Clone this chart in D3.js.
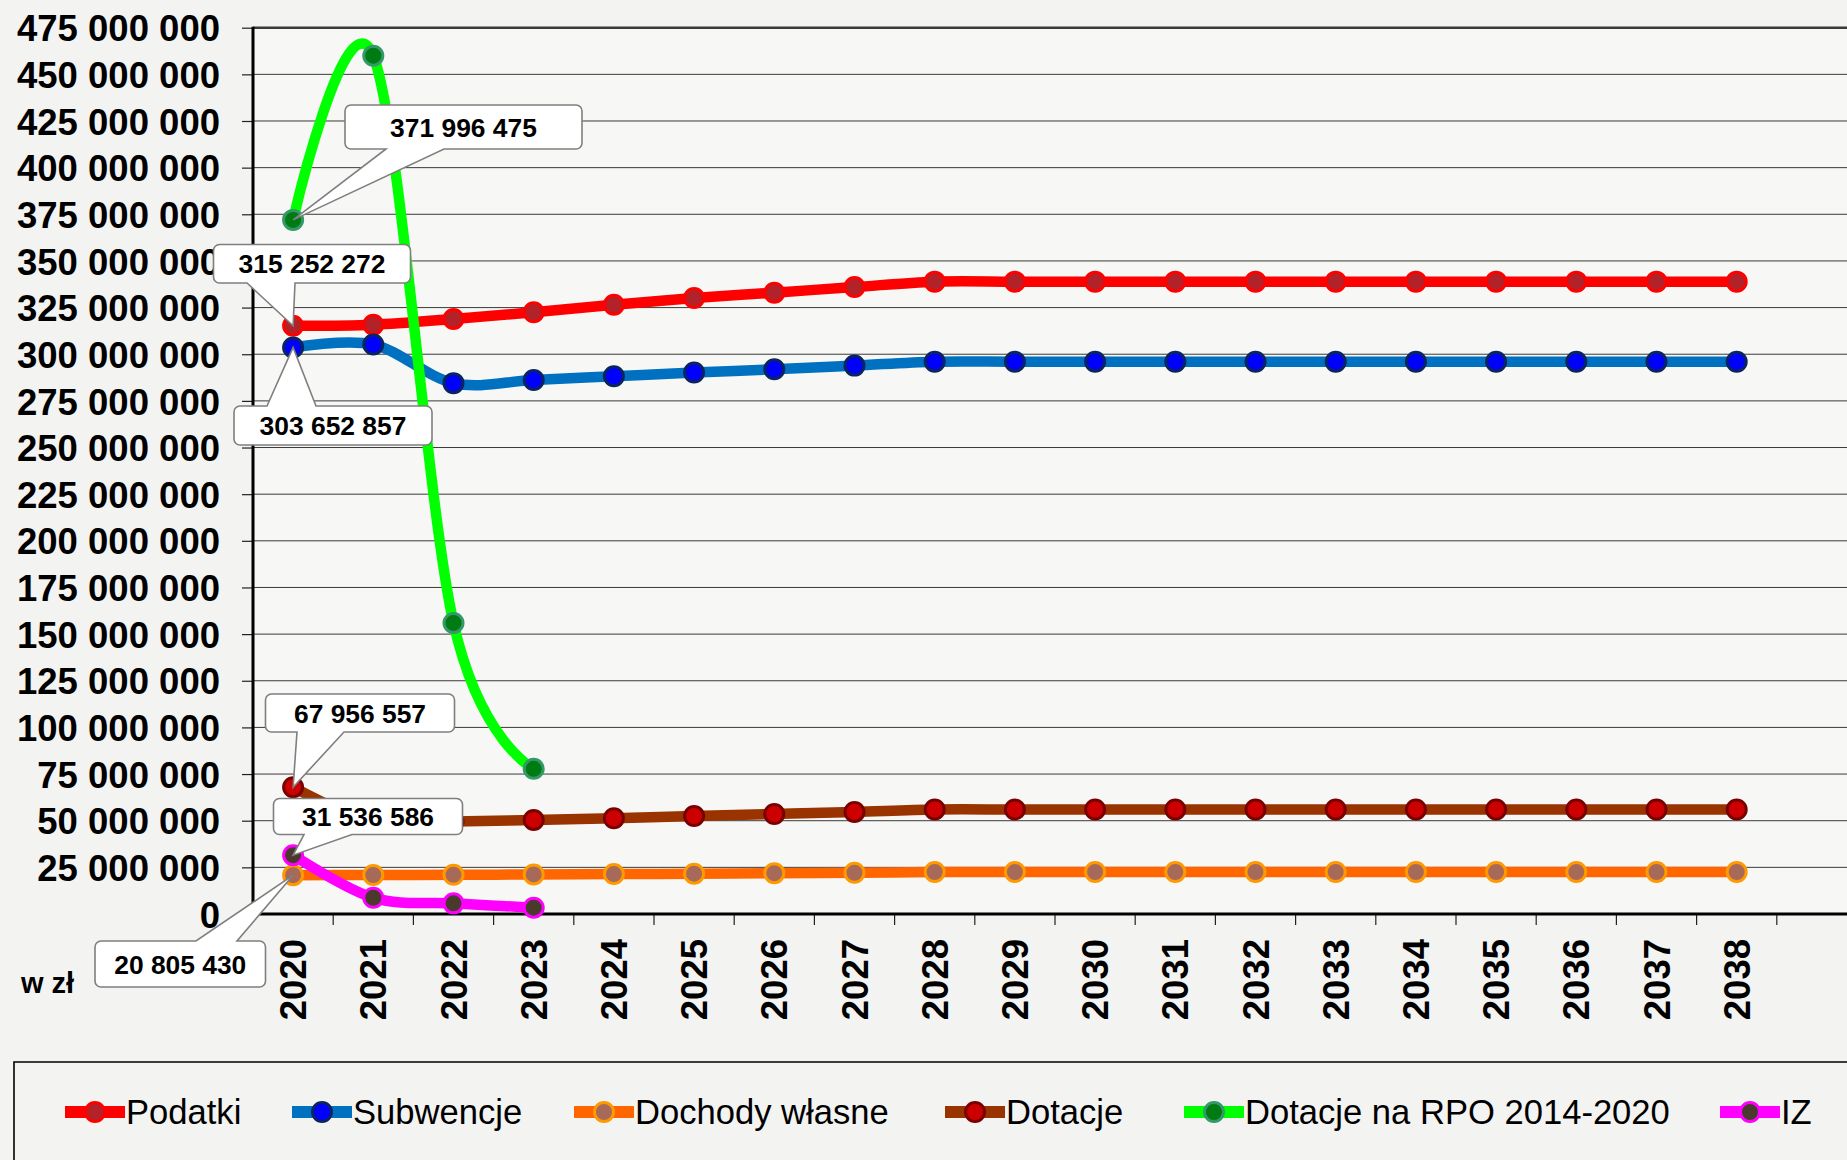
<!DOCTYPE html>
<html>
<head>
<meta charset="utf-8">
<script src="https://cdn.jsdelivr.net/npm/d3@7"></script>
<style>
  html, body { margin: 0; padding: 0; background: #F3F3F2; }
  svg { display: block; }
</style>
</head>
<body>
<script>
// ---------------- DATA ----------------
const years = ["2020","2021","2022","2023","2024","2025","2026","2027","2028","2029",
               "2030","2031","2032","2033","2034","2035","2036","2037","2038"];
const yTicks = [0, 25e6, 50e6, 75e6, 100e6, 125e6, 150e6, 175e6, 200e6, 225e6,
                250e6, 275e6, 300e6, 325e6, 350e6, 375e6, 400e6, 425e6, 450e6, 475e6];

const podatki   = [315252272, 315800000, 318900000, 322500000, 326500000, 330100000, 333000000, 336000000, 338900000,
                   338900000, 338900000, 338900000, 338900000, 338900000, 338900000, 338900000, 338900000, 338900000, 338900000];
const subwencje = [303652857, 305200000, 284500000, 286200000, 288200000, 290200000, 291900000, 293900000, 296000000,
                   296000000, 296000000, 296000000, 296000000, 296000000, 296000000, 296000000, 296000000, 296000000, 296000000];
const dochody   = [20805430, 20900000, 21000000, 21200000, 21400000, 21600000, 21900000, 22100000, 22500000,
                   22500000, 22500000, 22500000, 22500000, 22500000, 22500000, 22500000, 22500000, 22500000, 22500000];
const dotacje   = [67956557, 49300000, 49600000, 50400000, 51300000, 52500000, 53600000, 54700000, 56000000,
                   56000000, 56000000, 56000000, 56000000, 56000000, 56000000, 56000000, 56000000, 56000000, 56000000];
const rpo       = [371996475, 460000000, 156000000, 77800000];
const iz        = [31536586, 8700000, 5700000, 3400000];

const seriesNames = ["Podatki", "Subwencje", "Dochody własne", "Dotacje", "Dotacje na RPO 2014-2020", "IZ"];
const seriesValues = [podatki, subwencje, dochody, dotacje, rpo, iz];

// ---------------- STYLE / LAYOUT ----------------
const styles = [
  { line: "#FF0000", fill: "#B22228", stroke: "#FF0000" },
  { line: "#0070C0", fill: "#0000FF", stroke: "#0A2462" },
  { line: "#FF6600", fill: "#A86A58", stroke: "#FF9900" },
  { line: "#993300", fill: "#CC0000", stroke: "#7A0000" },
  { line: "#00FF00", fill: "#007A12", stroke: "#339966" },
  { line: "#FF00FF", fill: "#4A3A2E", stroke: "#FF00FF" }
];
const legendLineX = [65, 292, 574, 945, 1184, 1720];

// callout boxes: series index, box [x,y,w,h], pointer side, pointer base [x1,x2]
const callouts = [
  { s: 4, box: [345, 105, 237, 44],   side: "bottom", base: [386, 444] },
  { s: 0, box: [213.5, 244.5, 197, 38.5], side: "bottom", base: [247, 295] },
  { s: 1, box: [234, 406, 198, 39],   side: "top",    base: [267, 316] },
  { s: 3, box: [265.5, 694, 189, 38], side: "bottom", base: [297, 344] },
  { s: 5, box: [273.5, 798.5, 189, 36], side: "bottom", base: [304, 352] },
  { s: 2, box: [95, 941, 170.5, 46],  side: "top",    base: [196, 237] }
];

const W = 1847, H = 1160;
const plotLeft = 253, plotRight = 1847, plotTop = 27.7, plotBottom = 914;
const bandW = 80.2;

const svg = d3.select("body").append("svg").attr("width", W).attr("height", H);

svg.append("rect").attr("width", W).attr("height", H).attr("fill", "#F3F3F2");
svg.append("rect").attr("x", plotLeft).attr("y", plotTop)
   .attr("width", plotRight - plotLeft).attr("height", plotBottom - plotTop)
   .attr("fill", "#F7F7F5");

const x = d3.scaleBand().domain(years).range([plotLeft, plotLeft + bandW * years.length]).padding(0);
const y = d3.scaleLinear().domain([0, 475e6]).range([plotBottom, plotTop]);
const cx = d => x(d) + x.bandwidth() / 2;

const fmt = v => d3.format(",")(v).replace(/,/g, " ");

// gridlines
svg.append("g").selectAll("line").data(yTicks.filter(v => v > 0)).join("line")
  .attr("x1", plotLeft).attr("x2", plotRight)
  .attr("y1", d => y(d)).attr("y2", d => y(d))
  .attr("stroke", "#3a3a3a").attr("stroke-width", d => d === 475e6 ? 2.6 : 1);

// y axis
const yAxis = d3.axisLeft(y).tickValues(yTicks).tickSize(11).tickPadding(22).tickFormat(fmt);
const gy = svg.append("g").attr("transform", `translate(${plotLeft},0)`).call(yAxis);
gy.select(".domain").remove();
gy.selectAll(".tick line").attr("stroke", "#222").attr("stroke-width", 1.2);
gy.selectAll(".tick text")
  .attr("font-family", "Liberation Sans, Arial, sans-serif")
  .attr("font-weight", "bold").attr("font-size", 36.5).attr("fill", "#000")
  .attr("dy", "0.36em");

// x axis labels
const xAxis = d3.axisBottom(x).tickSize(0).tickFormat(d => d);
const gx = svg.append("g").attr("transform", `translate(0,${plotBottom})`).call(xAxis);
gx.select(".domain").remove();
gx.selectAll(".tick text")
  .attr("font-family", "Liberation Sans, Arial, sans-serif")
  .attr("font-weight", "bold").attr("font-size", 36.5).attr("fill", "#000")
  .attr("text-anchor", "end").attr("dy", null).attr("y", null)
  .attr("transform", "translate(13,25) rotate(-90)");

// x ticks at band boundaries
svg.append("g").selectAll("line").data(years).join("line")
  .attr("x1", d => x(d) + x.bandwidth()).attr("x2", d => x(d) + x.bandwidth())
  .attr("y1", plotBottom).attr("y2", plotBottom + 11)
  .attr("stroke", "#222").attr("stroke-width", 1.2);

// axis lines
svg.append("line").attr("x1", plotLeft).attr("x2", plotLeft).attr("y1", plotTop - 1).attr("y2", plotBottom + 1)
  .attr("stroke", "#000").attr("stroke-width", 3);
svg.append("line").attr("x1", plotLeft - 1).attr("x2", plotRight).attr("y1", plotBottom).attr("y2", plotBottom)
  .attr("stroke", "#000").attr("stroke-width", 3.2);

// unit label
svg.append("text").attr("x", 21).attr("y", 993)
  .attr("font-family", "Liberation Sans, Arial, sans-serif").attr("font-weight", "bold")
  .attr("font-size", 29).text("w zł");

// series
const line = d3.line().x((d, i) => cx(years[i])).y(d => y(d)).curve(d3.curveCardinal.tension(0));
seriesValues.forEach((vals, si) => {
  const st = styles[si];
  const g = svg.append("g");
  g.append("path").attr("d", line(vals)).attr("fill", "none")
    .attr("stroke", st.line).attr("stroke-width", 10.5).attr("stroke-linejoin", "round");
  g.selectAll("circle").data(vals).join("circle")
    .attr("cx", (d, i) => cx(years[i])).attr("cy", d => y(d)).attr("r", 9.5)
    .attr("fill", st.fill).attr("stroke", st.stroke).attr("stroke-width", 3);
});

// callouts
function calloutPath(bx, by, w, h, r, side, b1, b2, tx, ty) {
  let p = `M${bx + r},${by}`;
  if (side === "top") p += `L${b1},${by}L${tx},${ty}L${b2},${by}`;
  p += `L${bx + w - r},${by}A${r},${r} 0 0 1 ${bx + w},${by + r}`;
  p += `L${bx + w},${by + h - r}A${r},${r} 0 0 1 ${bx + w - r},${by + h}`;
  if (side === "bottom") p += `L${b2},${by + h}L${tx},${ty}L${b1},${by + h}`;
  p += `L${bx + r},${by + h}A${r},${r} 0 0 1 ${bx},${by + h - r}`;
  p += `L${bx},${by + r}A${r},${r} 0 0 1 ${bx + r},${by}Z`;
  return p;
}
const cg = svg.append("g");
callouts.forEach(c => {
  const v = seriesValues[c.s][0];
  const tx = cx(years[0]), ty = y(v);
  const [bx, by, w, h] = c.box;
  cg.append("path").attr("d", calloutPath(bx, by, w, h, 6, c.side, c.base[0], c.base[1], tx, ty))
    .attr("fill", "#FFFFFF").attr("stroke", "#7F7F7F").attr("stroke-width", 1.6);
  cg.append("text").attr("x", bx + w / 2).attr("y", by + h / 2).attr("dy", "0.36em")
    .attr("text-anchor", "middle")
    .attr("font-family", "Liberation Sans, Arial, sans-serif").attr("font-weight", "bold")
    .attr("font-size", 26.4).attr("fill", "#000").text(fmt(v));
});

// legend
svg.append("path").attr("d", `M14,${H + 2}L14,1062L${W + 2},1062`).attr("fill", "none")
  .attr("stroke", "#000").attr("stroke-width", 1.6);
const ly = 1112;
seriesNames.forEach((name, i) => {
  const st = styles[i];
  const lx = legendLineX[i];
  svg.append("line").attr("x1", lx).attr("x2", lx + 60).attr("y1", ly).attr("y2", ly)
    .attr("stroke", st.line).attr("stroke-width", 12);
  svg.append("circle").attr("cx", lx + 30).attr("cy", ly).attr("r", 9.5)
    .attr("fill", st.fill).attr("stroke", st.stroke).attr("stroke-width", 3);
  svg.append("text").attr("x", lx + 61).attr("y", ly).attr("dy", "0.36em")
    .attr("font-family", "Liberation Sans, Arial, sans-serif").attr("font-size", 34.6)
    .attr("fill", "#000").text(name);
});
</script>
</body>
</html>
